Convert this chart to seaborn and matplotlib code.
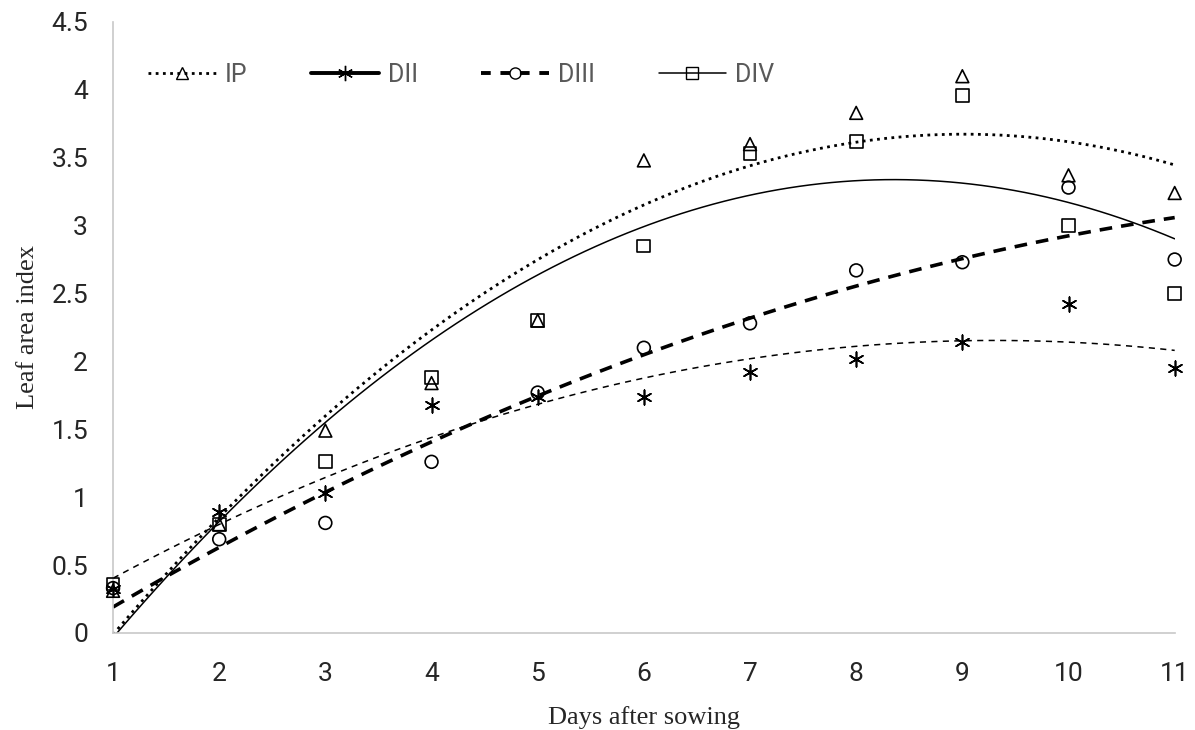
import numpy as np
import pandas as pd
import matplotlib
matplotlib.use("Agg")
import matplotlib.pyplot as plt
from matplotlib.lines import Line2D
from matplotlib.ticker import FuncFormatter
import seaborn as sns

days = [1, 2, 3, 4, 5, 6, 7, 8, 9, 10, 11]
ip = [0.31, 0.80, 1.49, 1.84, 2.30, 3.48, 3.60, 3.83, 4.10, 3.37, 3.24]
dii = [0.32, 0.89, 1.03, 1.68, 1.74, 1.74, 1.92, 2.02, 2.14, 2.42, 1.95]
diii = [0.33, 0.69, 0.81, 1.26, 1.77, 2.10, 2.28, 2.67, 2.73, 3.28, 2.75]
div = [0.36, 0.80, 1.26, 1.88, 2.30, 2.85, 3.53, 3.62, 3.96, 3.00, 2.50]

series_names = ["IP", "DII", "DIII", "DIV"]
series_vals = [ip, dii, diii, div]

sns.set_style("white")
plt.rcParams['font.family'] = ['Roboto', 'DejaVu Sans']

# marker, trendline style, trendline width
styles = {
    "IP":   dict(marker="^", ls=(0, (1, 1.6)), lw=2.0),
    "DII":  dict(marker=(6, 2, 0), ls=(0, (4, 3.5)), lw=1.1),
    "DIII": dict(marker="o", ls=(0, (3.5, 2.5)), lw=2.6),
    "DIV":  dict(marker="s", ls="-", lw=1.1),
}

fig, ax = plt.subplots(figsize=(11.95, 7.3), dpi=100)
fig.subplots_adjust(left=0.0946, right=0.983, bottom=0.133, top=0.970)

for name, vals in zip(series_names, series_vals):
    df = pd.DataFrame({"day": days, "lai": vals})
    st = styles[name]
    # 2nd order polynomial trendline
    sns.regplot(data=df, x="day", y="lai", order=2, ci=None, scatter=False,
                truncate=True, ax=ax,
                line_kws=dict(color="black", linestyle=st["ls"], linewidth=st["lw"]))
    if name == "DII":
        sns.scatterplot(data=df, x="day", y="lai", marker=st["marker"], s=110,
                        color="black", linewidth=1.2, ax=ax, clip_on=False, zorder=5)
    else:
        sns.scatterplot(data=df, x="day", y="lai", marker=st["marker"], s=85,
                        facecolor="none", edgecolor="black", linewidth=1.2,
                        ax=ax, clip_on=False, zorder=5)

ax.set_xlim(1, 11)
ax.set_ylim(0, 4.5)
ax.set_xticks(days)
ax.set_yticks(np.arange(0, 4.51, 0.5))
ax.yaxis.set_major_formatter(FuncFormatter(lambda v, p: f"{v:g}"))
ax.tick_params(axis="both", length=0, labelsize=19, colors="#262626")
ax.tick_params(axis="x", pad=21)
ax.tick_params(axis="y", pad=18)

for side in ["top", "right"]:
    ax.spines[side].set_visible(False)
for side in ["left", "bottom"]:
    ax.spines[side].set_color("#c8c8c8")
    ax.spines[side].set_linewidth(1.2)

ax.set_xlabel("Days after sowing", family="Liberation Serif", fontsize=19, labelpad=14)
ax.set_ylabel("Leaf area index", family="Liberation Serif", fontsize=19, labelpad=9)

handles = [
    Line2D([], [], color="black", ls=(0, (1, 1.6)), lw=2.0, marker="^",
           markerfacecolor="none", markersize=9),
    Line2D([], [], color="black", ls="-", lw=2.8, marker=(6, 2, 0), markersize=11),
    Line2D([], [], color="black", ls=(0, (2.5, 2.5)), lw=2.8, marker="o",
           markerfacecolor="none", markersize=8),
    Line2D([], [], color="black", ls="-", lw=1.1, marker="s",
           markerfacecolor="none", markersize=9),
]
leg = ax.legend(handles, series_names, ncol=4, loc="upper left",
                bbox_to_anchor=(0.012, 0.97), frameon=False, fontsize=18,
                handlelength=2.7, columnspacing=2.55, handletextpad=0.36)
for t in leg.get_texts():
    t.set_color("#595959")

fig.savefig("out.png", dpi=100)
